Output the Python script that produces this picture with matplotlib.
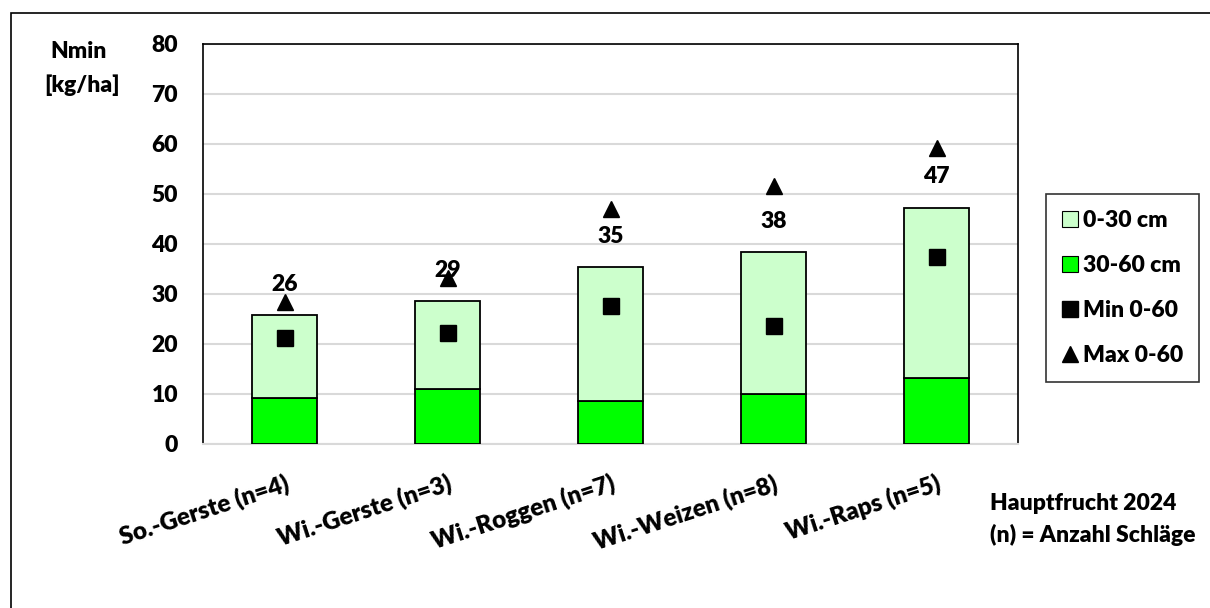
import numpy as np
import matplotlib.pyplot as plt
from matplotlib.patches import Rectangle
from matplotlib.lines import Line2D

# Nmin after harvest by main crop, kg N/ha
crops = ['So.-Gerste (n=4)', 'Wi.-Gerste (n=3)', 'Wi.-Roggen (n=7)',
         'Wi.-Weizen (n=8)', 'Wi.-Raps (n=5)']
layer_30_60 = [9.2, 11.0, 8.6, 10.0, 13.3]
layer_0_30 = [16.6, 17.6, 26.8, 28.4, 34.0]
min_0_60 = [21.2, 22.3, 27.7, 23.6, 37.5]
max_0_60 = [28.4, 33.2, 47.0, 51.6, 59.2]
y_ticks = [0, 10, 20, 30, 40, 50, 60, 70, 80]

FS = 16.5
WT = 'heavy'

plt.rcParams['font.family'] = ['Lato', 'DejaVu Sans']
plt.rcParams['font.weight'] = WT

W, H = 1210, 608
fig = plt.figure(figsize=(W / 100, H / 100), dpi=100)
ax = fig.add_axes([203 / W, 1 - 444 / H, (1018 - 203) / W, (444 - 44) / H])

x = np.arange(len(crops))
lower = np.array(layer_30_60)
upper = np.array(layer_0_30)
total = lower + upper

ax.bar(x, lower, width=0.4, color='#00ff00', edgecolor='black', linewidth=1.3, zorder=3)
ax.bar(x, upper, bottom=lower, width=0.4, color='#ccffcc', edgecolor='black',
       linewidth=1.3, zorder=3)
ax.plot(x, min_0_60, ls='none', marker='s', ms=11.5, color='black', zorder=4)
ax.plot(x, max_0_60, ls='none', marker='^', ms=12, color='black', zorder=4)

for xi, t in zip(x, total):
    ax.annotate(f'{t:.0f}', (xi, t), xytext=(0, 22), textcoords='offset points',
                ha='center', va='center', fontsize=FS, fontweight=WT, zorder=5)

ax.set_xlim(-0.5, len(crops) - 0.5)
ax.set_ylim(0, 80)
ax.set_yticks(y_ticks)
ax.yaxis.grid(True, color='#d9d9d9', linewidth=1.5, zorder=0)
ax.set_axisbelow(True)
ax.tick_params(axis='y', length=0, pad=18, labelsize=FS)
ax.set_xticks(x)
ax.set_xticklabels(crops, rotation=18, ha='right', va='top', rotation_mode='anchor',
                   fontsize=17.5, fontweight=WT)
ax.tick_params(axis='x', length=0, pad=20)
for side in ['left', 'top', 'right']:
    ax.spines[side].set_color('black')
    ax.spines[side].set_linewidth(1.2)
ax.spines['bottom'].set_color('#d9d9d9')
ax.spines['bottom'].set_linewidth(1.5)

fig.text(79 / W, 1 - 52 / H, 'Nmin', ha='center', va='center', fontsize=FS, fontweight=WT)
fig.text(82 / W, 1 - 85 / H, '[kg/ha]', ha='center', va='center', fontsize=FS, fontweight=WT)

fig.text(990 / W, 1 - 503 / H, 'Hauptfrucht 2024', ha='left', va='center',
         fontsize=FS, fontweight=WT)
fig.text(990 / W, 1 - 535 / H, '(n) = Anzahl Schläge', ha='left', va='center',
         fontsize=FS, fontweight=WT)

handles = [
    Rectangle((0, 0), 1, 1, facecolor='#ccffcc', edgecolor='black', linewidth=0.8),
    Rectangle((0, 0), 1, 1, facecolor='#00ff00', edgecolor='black', linewidth=0.8),
    Line2D([], [], ls='none', marker='s', ms=11, color='black'),
    Line2D([], [], ls='none', marker='^', ms=12, color='black'),
]
labels = ['0-30 cm', '30-60 cm', 'Min 0-60', 'Max 0-60']
leg = fig.legend(handles, labels, loc='upper left',
                 bbox_to_anchor=(1046 / W, 1 - 194 / H), bbox_transform=fig.transFigure,
                 frameon=True, fancybox=False, edgecolor='black', fontsize=FS,
                 handlelength=0.7, handleheight=0.7, handletextpad=0.2,
                 labelspacing=1.05, borderpad=0.7, borderaxespad=0)
leg.get_frame().set_linewidth(1.2)
for t in leg.get_texts():
    t.set_fontweight(WT)

# outer chart frame
fig.patches.append(Rectangle((11 / W, -0.05), 1.1, 1 - 13 / H + 0.05,
                             transform=fig.transFigure, fill=False,
                             edgecolor='black', linewidth=1.2))

fig.savefig('out.png', dpi=100)
